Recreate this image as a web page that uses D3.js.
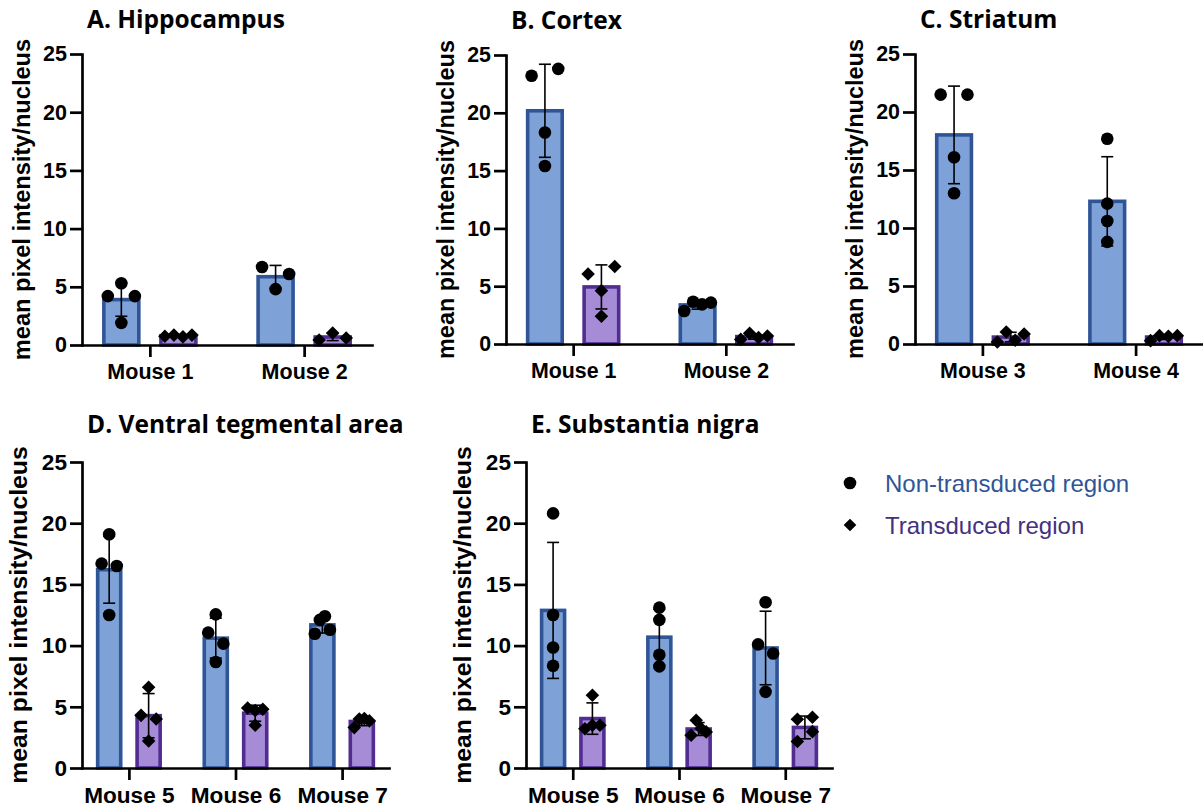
<!DOCTYPE html>
<html>
<head>
<meta charset="utf-8">
<script src="https://cdn.jsdelivr.net/npm/d3@7"></script>
<style>
  body { margin: 0; background: #fff; }
  svg text { font-family: 'Liberation Sans', Arial, sans-serif; }
  .title { font-family: 'Open Sans', sans-serif; font-weight: 700; }
</style>
</head>
<body>
<svg id="chart" width="1203" height="811"></svg>
<script>
/*
 * Values, one array per group (order = left to right when points overlap)
 */
var hippoMice = ['Mouse 1', 'Mouse 2'];
var hippoNon = [[5.3, 4.2, 4.2, 1.9], [6.7, 6.1, 4.8]];
var hippoTrans = [[0.75, 0.85, 0.7, 0.85], [0.43, 1.03, 0.6]];

var cortexMice = ['Mouse 1', 'Mouse 2'];
var cortexNon = [[23.2, 23.8, 18.3, 15.4], [2.85, 3.66, 3.43, 3.58]];
var cortexTrans = [[6.05, 6.7, 4.6, 2.4], [0.4, 0.92, 0.55, 0.69]];

var striatumMice = ['Mouse 3', 'Mouse 4'];
var striatumNon = [[21.5, 21.5, 16.1, 13.0], [17.7, 12.1, 10.6, 8.8]];
var striatumTrans = [[0.17, 1.03, 0.32, 0.86], [0.29, 0.72, 0.66, 0.72]];

var vtaMice = ['Mouse 5', 'Mouse 6', 'Mouse 7'];
var vtaNon = [[19.1, 16.7, 16.5, 12.5], [12.55, 11.06, 10.16, 8.66], [10.97, 12.1, 12.4, 11.3]];
var vtaTrans = [[6.6, 4.3, 4.0, 2.2], [4.9, 4.7, 4.8, 3.5], [3.3, 4.0, 4.05, 3.85]];

var nigraMice = ['Mouse 5', 'Mouse 6', 'Mouse 7'];
var nigraNon = [[20.8, 12.5, 9.85, 8.35], [13.1, 12.1, 9.25, 8.3], [13.54, 10.1, 9.36, 6.22]];
var nigraTrans = [[5.95, 3.2, 3.5, 3.5], [2.67, 3.9, 3.22, 2.95], [3.98, 4.15, 2.16, 2.97]];

var yTicks = [0, 5, 10, 15, 20, 25];
var yLabel = 'mean pixel intensity/nucleus';
var legendLabels = ['Non-transduced region', 'Transduced region'];

var colors = {
  nonFill: '#7ea2d8',
  nonStroke: '#2f5597',
  transFill: '#a68bd6',
  transStroke: '#512d92',
  nonText: '#2f5597',
  transText: '#44307f'
};

var svg = d3.select('#chart');

var panels = [
  {title: 'A. Hippocampus', mice: hippoMice, non: hippoNon, trans: hippoTrans, left: 82, right: 372, top: 54, bottom: 345},
  {title: 'B. Cortex', mice: cortexMice, non: cortexNon, trans: cortexTrans, left: 506, right: 793, top: 55, bottom: 344},
  {title: 'C. Striatum', mice: striatumMice, non: striatumNon, trans: striatumTrans, left: 915, right: 1203, top: 54, bottom: 344},
  {title: 'D. Ventral tegmental area', mice: vtaMice, non: vtaNon, trans: vtaTrans, left: 82, right: 389, top: 462, bottom: 768},
  {title: 'E. Substantia nigra', mice: nigraMice, non: nigraNon, trans: nigraTrans, left: 526, right: 832, top: 462, bottom: 768}
];

panels.forEach(drawPanel);
drawLegend();

/*
 * Horizontal offsets for points that would overlap vertically (GraphPad-like spreading)
 */
function spreadOffsets(vals, y, width, gap) {
  var order = d3.range(vals.length).sort(function(a, b) { return vals[a] - vals[b]; });
  var clusters = [];
  var cur = [order[0]];
  for (var i = 1; i < order.length; i++) {
    if (Math.abs(y(vals[order[i]]) - y(vals[order[i - 1]])) < gap) {
      cur.push(order[i]);
    } else {
      clusters.push(cur);
      cur = [order[i]];
    }
  }
  clusters.push(cur);
  var offs = vals.map(function() { return 0; });
  clusters.forEach(function(c) {
    if (c.length < 2) return;
    c.sort(d3.ascending);
    c.forEach(function(idx, j) {
      offs[idx] = -width / 2 + j * width / (c.length - 1);
    });
  });
  return offs;
}

function diamondPath(size) {
  return d3.symbol().type(d3.symbolSquare).size(size)();
}

function drawPanel(p) {
  var k = (p.bottom - p.top) / 291;
  var g = svg.append('g');

  var x = d3.scalePoint().domain(p.mice).range([p.left, p.right]).padding(0.44);
  var y = d3.scaleLinear().domain([0, 25]).range([p.bottom, p.top]);

  var step = x.step();
  var barW = step * 0.25;
  var off = step * 0.185;
  var sw = 3.6;
  var spread = barW - 11.5;

  var series = [
    {values: p.non, fill: colors.nonFill, stroke: colors.nonStroke, shape: 'circle', dx: -off},
    {values: p.trans, fill: colors.transFill, stroke: colors.transStroke, shape: 'diamond', dx: off}
  ];

  // Bars
  series.forEach(function(s) {
    g.selectAll(null)
      .data(p.mice)
      .enter().append('rect')
      .attr('x', function(m) { return x(m) + s.dx - (barW - sw) / 2; })
      .attr('y', function(m, i) { return y(d3.mean(s.values[i])); })
      .attr('width', barW - sw)
      .attr('height', function(m, i) { return p.bottom - y(d3.mean(s.values[i])); })
      .attr('fill', s.fill)
      .attr('stroke', s.stroke)
      .attr('stroke-width', sw);
  });

  // Axes
  var yAxis = g.append('g')
    .attr('transform', 'translate(' + p.left + ',0)')
    .call(d3.axisLeft(y).tickValues(yTicks).tickSize(12).tickSizeOuter(0).tickPadding(3));
  var xAxis = g.append('g')
    .attr('transform', 'translate(0,' + p.bottom + ')')
    .call(d3.axisBottom(x).tickSize(12).tickSizeOuter(0).tickPadding(7));

  [yAxis, xAxis].forEach(function(ax) {
    ax.select('.domain').attr('stroke', '#000').attr('stroke-width', 2.7).attr('stroke-linecap', 'square');
    ax.selectAll('.tick line').attr('stroke', '#000').attr('stroke-width', 2.7);
    ax.selectAll('.tick text')
      .attr('fill', '#000')
      .attr('font-family', "'Liberation Sans', Arial, sans-serif")
      .attr('font-weight', 'bold')
      .attr('font-size', (21.5 * k) + 'px');
  });

  // Error bars (mean +/- SD)
  series.forEach(function(s) {
    p.mice.forEach(function(m, i) {
      var vals = s.values[i];
      var mean = d3.mean(vals);
      var sd = d3.deviation(vals);
      var cx = x(m) + s.dx;
      var capW = 6;
      var eb = g.append('g').attr('stroke', '#000').attr('stroke-width', 1.6);
      eb.append('line').attr('x1', cx).attr('x2', cx).attr('y1', y(mean - sd)).attr('y2', y(mean + sd));
      eb.append('line').attr('x1', cx - capW).attr('x2', cx + capW).attr('y1', y(mean + sd)).attr('y2', y(mean + sd));
      eb.append('line').attr('x1', cx - capW).attr('x2', cx + capW).attr('y1', y(mean - sd)).attr('y2', y(mean - sd));
    });
  });

  // Individual points
  series.forEach(function(s) {
    p.mice.forEach(function(m, i) {
      var vals = s.values[i];
      var offs = spreadOffsets(vals, y, spread, 11.3);
      var cx = x(m) + s.dx;
      var pts = g.selectAll(null).data(vals).enter();
      if (s.shape === 'circle') {
        pts.append('circle')
          .attr('cx', function(v, j) { return cx + offs[j]; })
          .attr('cy', function(v) { return y(v); })
          .attr('r', 6.3)
          .attr('fill', '#000');
      } else {
        pts.append('path')
          .attr('d', diamondPath(92))
          .attr('transform', function(v, j) {
            return 'translate(' + (cx + offs[j]) + ',' + y(v) + ') rotate(45)';
          })
          .attr('fill', '#000');
      }
    });
  });

  // Title
  g.append('text')
    .attr('class', 'title')
    .attr('x', p.left + 5)
    .attr('y', p.top - 26 - 3 * (k - 1) / 0.05)
    .attr('font-size', '24.5px')
    .attr('fill', '#000')
    .text(p.title);

  // Y label
  g.append('text')
    .attr('transform', 'translate(' + (p.left - 52 * k) + ',' + ((p.top + p.bottom) / 2) + ') rotate(-90)')
    .attr('text-anchor', 'middle')
    .attr('font-weight', 'bold')
    .attr('font-size', (23.6 * k) + 'px')
    .attr('fill', '#000')
    .text(yLabel);
}

function drawLegend() {
  var lg = svg.append('g').attr('transform', 'translate(850,0)');
  var rows = [
    {label: legendLabels[0], y: 483, color: colors.nonText, shape: 'circle'},
    {label: legendLabels[1], y: 525, color: colors.transText, shape: 'diamond'}
  ];
  rows.forEach(function(r) {
    if (r.shape === 'circle') {
      lg.append('circle').attr('cx', 0).attr('cy', r.y).attr('r', 6.3).attr('fill', '#000');
    } else {
      lg.append('path')
        .attr('d', diamondPath(80))
        .attr('transform', 'translate(0,' + r.y + ') rotate(45)')
        .attr('fill', '#000');
    }
    lg.append('text')
      .attr('x', 35)
      .attr('y', r.y + 9)
      .attr('font-size', '24px')
      .attr('fill', r.color)
      .text(r.label);
  });
}
</script>
</body>
</html>
